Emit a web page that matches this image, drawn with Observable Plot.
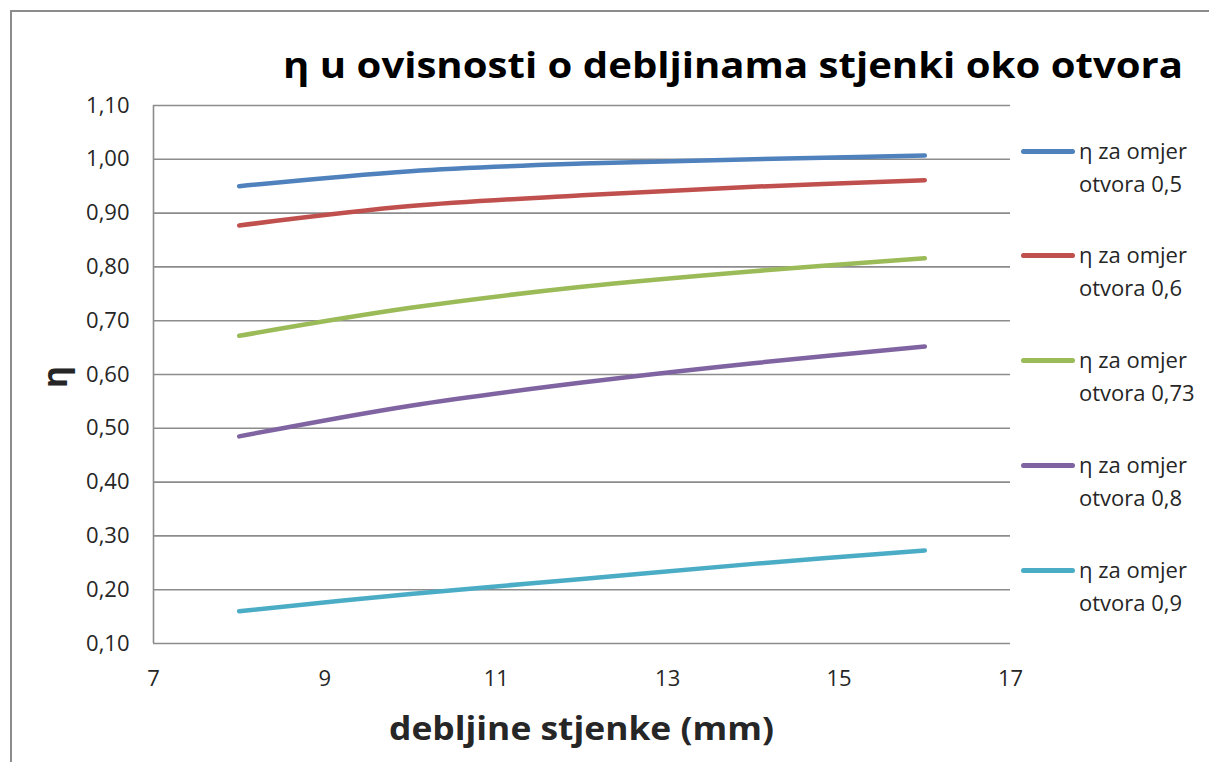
<!DOCTYPE html>
<html>
<head>
<meta charset="utf-8">
<script src="https://cdn.jsdelivr.net/npm/d3@7"></script>
<script src="https://cdn.jsdelivr.net/npm/@observablehq/plot@0.6"></script>
<style>
  body { margin: 0; background: #fff; font-family: "Open Sans", sans-serif; }
  #wrap { position: relative; width: 1209px; height: 762px; overflow: hidden; background: #fff; }
  #frame { position: absolute; left: 10px; top: 10px; width: 1400px; height: 1000px;
           border-left: 2px solid #8c8c8c; border-top: 2px solid #8c8c8c; }
  #chart { position: absolute; left: 0; top: 0; }
  #title { position: absolute; top: 41px; left: 283px; font-weight: 700; font-size: 35px;
           white-space: nowrap; color: #000; transform-origin: left top; }
  #xlabel { position: absolute; top: 705px; left: 389px; font-weight: 700; font-size: 33px;
            white-space: nowrap; color: #262626; transform-origin: left top; }
  #ylabel { position: absolute; left: 54px; top: 377px; font-weight: 700; font-size: 34px;
            color: #262626; transform: translate(-50%, -50%) rotate(-90deg); line-height: 1; }
  #legend { position: absolute; left: 1021px; top: 0; }
  .item { position: absolute; left: 0; width: 190px; }
  .sw { position: absolute; left: 0; width: 54px; height: 5px; border-radius: 3px; }
  .lt { position: absolute; left: 58px; font-size: 22px; color: #262626; white-space: nowrap; line-height: 32px; }
</style>
</head>
<body>
<div id="wrap">
  <div id="frame"></div>
  <div id="chart"></div>
  <div id="title">η u ovisnosti o debljinama stjenki oko otvora</div>
  <div id="xlabel">debljine stjenke (mm)</div>
  <div id="ylabel">η</div>
  <div id="legend"></div>
</div>
<script>
// x values: wall thickness (mm)
const thickness = [8, 10, 12, 14, 16];
// opening ratios (series)
const ratios = ["0,5", "0,6", "0,73", "0,8", "0,9"];
// η values per series
const eta05 = [0.950, 0.978, 0.992, 1.000, 1.007];
const eta06 = [0.877, 0.913, 0.933, 0.949, 0.961];
const eta073 = [0.672, 0.724, 0.763, 0.792, 0.816];
const eta08 = [0.485, 0.542, 0.585, 0.621, 0.652];
const eta09 = [0.160, 0.192, 0.220, 0.248, 0.273];
const colors = ["#4F81BD", "#C0504D", "#9BBB59", "#8064A2", "#4BACC6"];
const yTicks = [0.10, 0.20, 0.30, 0.40, 0.50, 0.60, 0.70, 0.80, 0.90, 1.00, 1.10];
const xTicks = [7, 9, 11, 13, 15, 17];

const seriesValues = [eta05, eta06, eta073, eta08, eta09];
const seriesNames = ratios.map(r => "η za omjer otvora " + r);
const data = [];
seriesValues.forEach((vals, i) => {
  vals.forEach((v, j) => data.push({ series: seriesNames[i], x: thickness[j], y: v }));
});

const chart = Plot.plot({
  width: 1209,
  height: 762,
  marginLeft: 153,
  marginRight: 199,
  marginTop: 105,
  marginBottom: 119,
  style: { fontFamily: "Open Sans, sans-serif", fontSize: "22px", color: "#262626", background: "transparent" },
  x: { domain: [7, 17] },
  y: { domain: [0.1, 1.1] },
  color: { domain: seriesNames, range: colors },
  marks: [
    Plot.gridY(yTicks, { stroke: "#8c8c8c", strokeOpacity: 1, strokeWidth: 1.6 }),
    Plot.ruleX([7], { stroke: "#8c8c8c", strokeWidth: 1.6 }),
    Plot.axisY(yTicks, { tickSize: 0, tickPadding: 24, label: null, fontSize: 22,
      tickFormat: d => d.toFixed(2).replace(".", ",") }),
    Plot.axisX(xTicks, { tickSize: 0, tickPadding: 27, label: null, fontSize: 22 }),
    Plot.line(data, { x: "x", y: "y", z: "series", stroke: "series", curve: "catmull-rom",
      strokeWidth: 4.5, strokeLinecap: "round", strokeLinejoin: "round" })
  ]
});
document.getElementById("chart").appendChild(chart);

// legend
const legend = document.getElementById("legend");
const legendY = [151, 255, 360, 465, 570];
ratios.forEach((r, i) => {
  const item = document.createElement("div");
  item.className = "item";
  item.style.top = legendY[i] + "px";
  const sw = document.createElement("div");
  sw.className = "sw";
  sw.style.top = "-2.5px";
  sw.style.background = colors[i];
  const t1 = document.createElement("div");
  t1.className = "lt";
  t1.style.top = "-17px";
  t1.textContent = "η za omjer";
  const t2 = document.createElement("div");
  t2.className = "lt";
  t2.style.top = "16px";
  t2.textContent = "otvora " + r;
  item.append(sw, t1, t2);
  legend.appendChild(item);
});

// fit title widths to the reference extents
function fitWidth(id, target) {
  const el = document.getElementById(id);
  const w = el.getBoundingClientRect().width;
  if (w > 0) el.style.transform = "scaleX(" + (target / w) + ")";
}
fitWidth("title", 900);
fitWidth("xlabel", 385);
</script>
</body>
</html>
